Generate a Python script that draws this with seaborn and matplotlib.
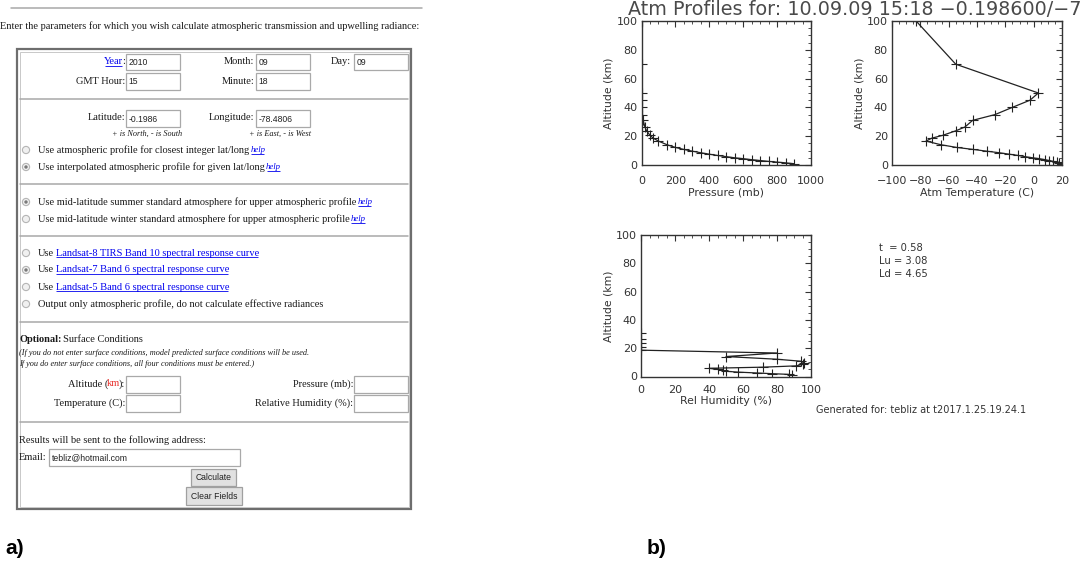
import matplotlib
matplotlib.use("Agg")
import matplotlib.pyplot as plt
import seaborn as sns
from matplotlib.patches import Rectangle, Circle
from matplotlib.ticker import MultipleLocator, AutoMinorLocator

# ---------------- data ----------------
pressure_mb = [900, 850, 800, 750, 700, 650, 600, 550, 500, 450, 400, 350, 300,
               250, 200, 150, 100, 70, 50, 30, 20, 10, 5.7, 2.9, 1.5, 0.8, 0.05, 0.0003]
altitude_km = [0.9, 1.5, 2.0, 2.5, 3.1, 3.7, 4.4, 5.0, 5.8, 6.6, 7.5, 8.5, 9.6,
               10.8, 12.2, 14.1, 16.6, 18.6, 20.6, 23.8, 26.4, 31.0, 35, 40, 45, 50, 70, 100]
temperature_c = [19.8, 18.0, 16.3, 13.9, 11.0, 8.0, 4.0, -0.7, -6.1, -10.8, -17.2, -24.2, -33.2,
                 -42.6, -54.4, -65.6, -76.0, -72.0, -64.2, -54.8, -48.5, -43.1, -27.3, -15.1,
                 -2.6, 3.3, -55.0, -83.0]
rel_humidity = [89, 87, 77, 68, 57, 50, 48, 45, 40, 72, 91, 95, 96, 94, 80, 50, 80,
                0, 0, 0, 0, 0]
rh_altitude_km = altitude_km[:len(rel_humidity)]

# visible part of the (edge-cropped) title in the reference
title_text = "Atm Profiles for: 10.09.09 15:18 \u22120.198600/\u22127"
result_lines = ["t  = 0.58", "Lu = 3.08", "Ld = 4.65"]
generated_text = "Generated for: tebliz at t2017.1.25.19.24.1"

intro_text = "Enter the parameters for which you wish calculate atmospheric transmission and upwelling radiance:"
date_fields = [("Year", "2010"), ("Month", "09"), ("Day", "09"), ("GMT Hour", "15"), ("Minute", "18")]
latlon_fields = [("Latitude", "-0.1986", "+ is North, - is South"),
                 ("Longitude", "-78.4806", "+ is East, - is West")]
profile_options = ["Use atmospheric profile for closest integer lat/long",
                   "Use interpolated atmospheric profile for given lat/long"]
upper_options = ["Use mid-latitude summer standard atmosphere for upper atmospheric profile",
                 "Use mid-latitude winter standard atmosphere for upper atmospheric profile"]
band_links = ["Landsat-8 TIRS Band 10 spectral response curve",
              "Landsat-7 Band 6 spectral response curve",
              "Landsat-5 Band 6 spectral response curve"]
band_last = "Output only atmospheric profile, do not calculate effective radiances"
surface_notes = ["(If you do not enter surface conditions, model predicted surface conditions will be used.",
                 "If you do enter surface conditions, all four conditions must be entered.)"]
email_value = "tebliz@hotmail.com"

# ---------------- figure ----------------
sns.set_theme(style="white")
plt.rcParams["font.family"] = ["DejaVu Sans"]
W, H = 1087, 566
fig = plt.figure(figsize=(W / 100, H / 100), dpi=100)
fig.patch.set_facecolor("white")

form_ax = fig.add_axes([0, 0, 1, 1])
form_ax.set_xlim(0, W)
form_ax.set_ylim(H, 0)
form_ax.axis("off")
renderer = fig.canvas.get_renderer()

SERIF = "Liberation Serif"
SANS = "Liberation Sans"
BODY = 7.45
NOTE = 5.95
INK = "#1a1a1a"
LINK = "#0000EE"
TRIM = 1.2


def measure(s, **kw):
    t = form_ax.text(0, 0, s, **kw)
    w = t.get_window_extent(renderer=renderer).width
    t.remove()
    return w


def draw_runs(x, y, parts, ha="left", size=BODY, family=SERIF):
    items, total = [], 0.0
    for s, st in parts:
        lead = len(s) - len(s.lstrip(" "))
        core = s.lstrip(" ")
        kw = dict(fontsize=st.get("size", size), family=st.get("family", family),
                  style=st.get("style", "normal"), weight=st.get("weight", "normal"),
                  color=st.get("color", INK))
        sp = measure("a a", **kw) - measure("aa", **kw)
        w = measure(core, **kw) - TRIM
        items.append((core, kw, lead * sp, w, st.get("ul", False)))
        total += lead * sp + w
    cx = x if ha == "left" else (x - total if ha == "right" else x - total / 2)
    for core, kw, gap, w, ul in items:
        cx += gap
        form_ax.text(cx, y, core, va="center", ha="left", **kw)
        if ul:
            form_ax.plot([cx + 0.6, cx + w], [y + 4.4, y + 4.4], color=kw["color"],
                         lw=0.6, solid_capstyle="butt")
        cx += w


def input_box(x, y, w, h, value=""):
    form_ax.add_patch(Rectangle((x, y), w, h, facecolor="white", edgecolor="#a9a9a9", lw=0.9))
    if value:
        form_ax.text(x + 2.5, y + h / 2 + 0.5, value, fontsize=6.2, family=SANS,
                     color="#222", va="center", ha="left")


def button(x, y, w, h, label):
    form_ax.add_patch(Rectangle((x, y), w, h, facecolor="#e1e1e1", edgecolor="#a0a0a0", lw=0.9))
    form_ax.text(x + w / 2, y + h / 2 + 0.5, label, fontsize=6.2, family=SANS,
                 color="#222", va="center", ha="center")


def radio(x, y, selected):
    form_ax.add_patch(Circle((x, y), 3.6, facecolor="#f0f0f0", edgecolor="#b5b5b5", lw=0.8))
    if selected:
        form_ax.add_patch(Circle((x, y), 1.7, facecolor="#7a7a7a", edgecolor="none"))


def sep(y):
    form_ax.plot([20, 408], [y, y], color="#a8a8a8", lw=1.1)


# top rule and intro
form_ax.plot([11, 422], [8, 8], color="#a8a8a8", lw=1.1)
draw_runs(0.5, 26, [(intro_text, {})])

# outer frame
form_ax.add_patch(Rectangle((17, 49), 394, 460, facecolor="none", edgecolor="#6e6e6e", lw=1.6))
form_ax.add_patch(Rectangle((19.5, 51.5), 389, 455, facecolor="none", edgecolor="#c8c8c8", lw=0.7))

# date rows
draw_runs(124, 62, [(date_fields[0][0], {"color": LINK, "ul": True}), (":", {})], ha="right")
input_box(126, 54, 54, 16, date_fields[0][1])
draw_runs(253, 62, [(date_fields[1][0] + ":", {})], ha="right")
input_box(256, 54, 54, 16, date_fields[1][1])
draw_runs(350, 62, [(date_fields[2][0] + ":", {})], ha="right")
input_box(354, 54, 54, 16, date_fields[2][1])
draw_runs(124, 81, [(date_fields[3][0] + ":", {})], ha="right")
input_box(126, 73, 54, 17, date_fields[3][1])
draw_runs(253, 81, [(date_fields[4][0] + ":", {})], ha="right")
input_box(256, 73, 54, 17, date_fields[4][1])
sep(99)

# lat / lon
draw_runs(124, 118, [(latlon_fields[0][0] + ":", {})], ha="right")
input_box(126, 110, 54, 17, latlon_fields[0][1])
draw_runs(253, 118, [(latlon_fields[1][0] + ":", {})], ha="right")
input_box(256, 110, 54, 17, latlon_fields[1][1])
draw_runs(146, 133.5, [(latlon_fields[0][2], {"style": "italic", "size": NOTE})], ha="center")
draw_runs(279, 133.5, [(latlon_fields[1][2], {"style": "italic", "size": NOTE})], ha="center")

help_style = {"color": LINK, "ul": True, "style": "italic", "size": 6.3}
for i, (yy, txt) in enumerate(zip([150, 167], profile_options)):
    radio(26, yy, i == 1)
    draw_runs(38, yy, [(txt, {}), (" help", help_style)])
sep(184)
for i, (yy, txt) in enumerate(zip([202, 219], upper_options)):
    radio(26, yy, i == 0)
    draw_runs(38, yy, [(txt, {}), (" help", help_style)])
sep(235.5)
for i, (yy, txt) in enumerate(zip([253, 270, 287], band_links)):
    radio(26, yy, i == 1)
    draw_runs(38, yy, [("Use", {}), (" " + txt, {"color": LINK, "ul": True})])
radio(26, 304, False)
draw_runs(38, 304, [(band_last, {})])
sep(321.5)

# optional surface conditions
draw_runs(19, 339, [("Optional:", {"weight": "bold"}), (" Surface Conditions", {})])
draw_runs(19, 353, [(surface_notes[0], {"style": "italic", "size": NOTE})])
draw_runs(19, 364, [(surface_notes[1], {"style": "italic", "size": NOTE})])
draw_runs(124, 384, [("Altitude (", {}), ("km", {"color": "#e8322e"}), ("):", {})], ha="right")
input_box(126, 376, 54, 17)
draw_runs(352, 384, [("Pressure (mb):", {})], ha="right")
input_box(354, 376, 54, 17)
draw_runs(124, 403, [("Temperature (C):", {})], ha="right")
input_box(126, 395, 54, 17)
draw_runs(352, 403, [("Relative Humidity (%):", {})], ha="right")
input_box(354, 395, 54, 17)
sep(421.5)

draw_runs(19, 440, [("Results will be sent to the following address:", {})])
draw_runs(19, 457, [("Email:", {})])
input_box(49, 449, 191, 17, email_value)
button(191, 469, 45, 17, "Calculate")
button(186, 487, 56, 18, "Clear Fields")

# panel letters
form_ax.text(5, 549, "a)", fontsize=15, weight="bold", family=SANS, color="black", va="center")
form_ax.text(647, 549, "b)", fontsize=15, weight="bold", family=SANS, color="black", va="center")

# plot texts
PL = "#333333"
form_ax.text(628, 15, title_text, fontsize=13.8, color="#4a4a4a", family="DejaVu Sans",
             va="baseline", ha="left", clip_on=False)
for i, line in enumerate(result_lines):
    form_ax.text(879, 248 + 13 * i, line, fontsize=7.2, color=PL, va="center", ha="left")
form_ax.text(816, 410, generated_text, fontsize=7.0, color=PL, va="center", ha="left")


# ---------------- profile plots ----------------
def px_axes(left, top, right, bottom):
    return fig.add_axes([left / W, (H - bottom) / H, (right - left) / W, (bottom - top) / H])


def style_ax(ax, xlim, ylim, xstep, xlabel, xpad):
    ax.set_xlim(*xlim)
    ax.set_ylim(*ylim)
    ax.xaxis.set_major_locator(MultipleLocator(xstep))
    ax.yaxis.set_major_locator(MultipleLocator(20))
    ax.xaxis.set_minor_locator(AutoMinorLocator(4))
    ax.yaxis.set_minor_locator(AutoMinorLocator(4))
    ax.tick_params(which="both", direction="in", top=True, right=True, color=PL,
                   labelsize=8, labelcolor=PL)
    ax.tick_params(which="major", length=4, width=0.8)
    ax.tick_params(which="minor", length=2, width=0.6)
    ax.tick_params(axis="x", pad=xpad)
    ax.tick_params(axis="y", pad=3)
    for sp in ax.spines.values():
        sp.set_color(PL)
        sp.set_linewidth(1.0)
    ax.set_facecolor("white")
    ax.set_xlabel(xlabel, fontsize=7.8, color=PL, labelpad=1)
    ax.set_ylabel("Altitude (km)", fontsize=7.8, color=PL, labelpad=2)


line_kw = dict(sort=False, estimator=None, color="#222222", lw=0.9, marker="+",
               markersize=7, markeredgewidth=0.8, markeredgecolor="#222222")

ax1 = px_axes(641.5, 21, 811, 165)
sns.lineplot(x=pressure_mb, y=altitude_km, ax=ax1, **line_kw)
style_ax(ax1, (0, 1000), (0, 100), 200, "Pressure (mb)", 8)

ax2 = px_axes(892, 21, 1062, 165)
sns.lineplot(x=temperature_c, y=altitude_km, ax=ax2, **line_kw)
style_ax(ax2, (-100, 20), (0, 100), 20, "Atm Temperature (C)", 8)

ax3 = px_axes(641, 235, 811, 376.5)
sns.lineplot(x=rel_humidity, y=rh_altitude_km, ax=ax3, **line_kw)
style_ax(ax3, (0, 100), (0, 100), 20, "Rel Humidity (%)", 6)

fig.savefig("out.png", dpi=100, facecolor="white")
